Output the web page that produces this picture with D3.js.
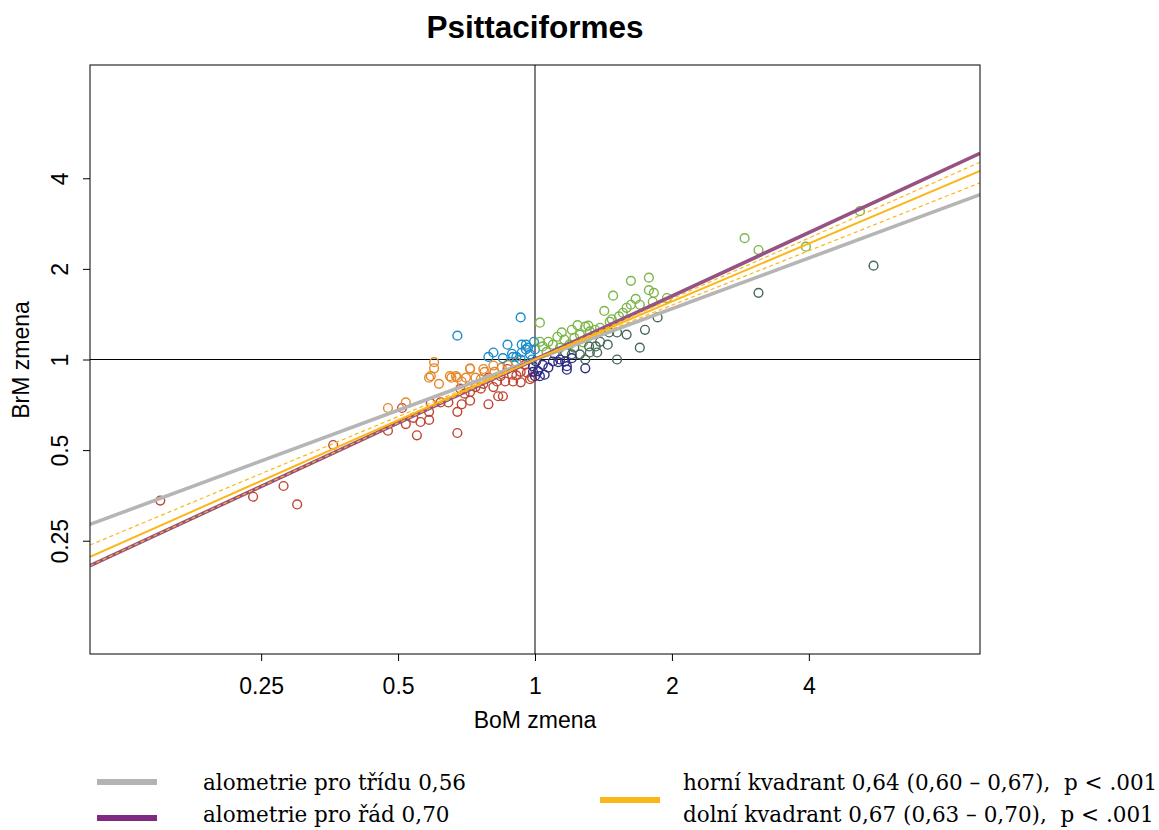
<!DOCTYPE html>
<html>
<head>
<meta charset="utf-8">
<script src="https://cdn.jsdelivr.net/npm/d3@7"></script>
<style>
  html, body { margin: 0; padding: 0; background: #fff; }
  svg { display: block; }
</style>
</head>
<body>
<svg id="chart" width="1159" height="830"></svg>
<script>
// Relative changes (ratio to reference) in body mass (x) and brain mass (y)
const tickValues = [0.25, 0.5, 1, 2, 4];
const tickLabels = ["0.25", "0.5", "1", "2", "4"];

const groupRed = [
  [0.15, 0.34], [0.24, 0.35], [0.28, 0.38], [0.30, 0.33], [0.36, 0.52],
  [0.475, 0.58], [0.51, 0.69], [0.52, 0.61], [0.54, 0.64], [0.55, 0.56],
  [0.56, 0.62], [0.585, 0.63], [0.585, 0.67], [0.59, 0.715], [0.645, 0.72],
  [0.675, 0.57], [0.675, 0.67], [0.69, 0.71], [0.72, 0.73], [0.72, 0.78],
  [0.685, 0.80], [0.76, 0.80], [0.77, 0.83], [0.79, 0.71], [0.81, 0.81],
  [0.83, 0.755], [0.85, 0.755], [0.825, 0.845], [0.86, 0.845], [0.895, 0.845],
  [0.93, 0.84], [0.975, 0.86], [0.89, 0.89], [0.91, 0.885], [0.93, 0.91],
  [0.96, 0.905], [0.87, 0.93], [0.84, 0.88], [0.79, 0.87], [0.74, 0.81],
  [0.70, 0.77], [0.985, 0.87], [0.95, 0.96], [0.62, 0.72]
];
const groupOrange = [
  [0.475, 0.69], [0.52, 0.72], [0.60, 0.98], [0.60, 0.935], [0.585, 0.87],
  [0.615, 0.83], [0.655, 0.87], [0.675, 0.87], [0.69, 0.845], [0.705, 0.87],
  [0.72, 0.935], [0.74, 0.87], [0.775, 0.91], [0.81, 0.955], [0.815, 0.91],
  [0.845, 0.94], [0.87, 0.96], [0.91, 0.98], [0.76, 0.86], [0.77, 0.93],
  [0.72, 0.93], [0.67, 0.88], [0.65, 0.88], [0.59, 0.88]
];
const groupBlue = [
  [0.675, 1.20], [0.93, 1.38], [0.87, 1.12], [0.79, 1.02], [0.81, 1.055],
  [0.85, 1.01], [0.89, 1.045], [0.91, 1.02], [0.935, 1.055], [0.955, 1.12],
  [0.955, 1.08], [0.965, 1.095], [0.975, 1.04], [0.995, 1.145], [1.0, 1.08],
  [0.895, 1.02], [0.93, 1.0], [0.985, 1.0], [0.935, 1.12]
];
const groupGreen = [
  [1.025, 1.325], [1.78, 1.87], [1.625, 1.825], [1.78, 1.70], [1.825, 1.665],
  [1.485, 1.63], [1.665, 1.59], [1.42, 1.45], [1.59, 1.485], [1.625, 1.52],
  [1.70, 1.52], [1.53, 1.39], [1.56, 1.43], [1.46, 1.335], [1.31, 1.295],
  [1.29, 1.285], [1.205, 1.255], [1.145, 1.23], [1.12, 1.19], [1.07, 1.145],
  [1.025, 1.145], [1.04, 1.105], [1.355, 1.255], [1.815, 1.555], [1.95, 1.60],
  [2.89, 2.53], [3.10, 2.31], [3.94, 2.37], [5.18, 3.11], [1.16, 1.165],
  [1.22, 1.18], [1.255, 1.21], [1.32, 1.24], [1.39, 1.275], [1.475, 1.36],
  [1.095, 1.12], [1.135, 1.095], [1.06, 1.06], [1.19, 1.12], [1.24, 1.30],
  [1.275, 1.14]
];
const groupDarkGreen = [
  [5.55, 2.05], [3.10, 1.665], [1.86, 1.38], [1.745, 1.255], [1.70, 1.095],
  [1.59, 1.21], [1.515, 1.23], [1.455, 1.23], [1.39, 1.145], [1.515, 1.0],
  [1.445, 1.12], [1.37, 1.055], [1.32, 1.055], [1.29, 1.0], [1.255, 1.04],
  [1.205, 1.04], [1.165, 1.055], [1.22, 1.095], [1.315, 1.105], [1.36, 1.105],
  [1.105, 1.04]
];
const groupNavy = [
  [0.99, 0.95], [1.015, 0.915], [1.025, 0.88], [1.07, 0.94], [1.095, 0.985],
  [1.125, 0.98], [1.165, 0.985], [1.175, 0.95], [1.175, 0.925], [1.205, 1.01],
  [1.29, 0.935], [1.04, 0.96], [1.0, 0.88], [1.005, 0.985], [1.05, 0.89],
  [0.99, 0.91], [1.135, 1.0]
];

// Allometric slopes (log-log), all lines pass through (1, 1)
const slopeClass = 0.56;
const slopeOrder = 0.70;
const slopeUpper = 0.64, slopeUpperCI = [0.60, 0.67];
const slopeLower = 0.67, slopeLowerCI = [0.63, 0.70];

const legendLabels = [
  "alometrie pro třídu 0,56",
  "alometrie pro řád 0,70",
  "horní kvadrant 0,64 (0,60 – 0,67),  p < .001",
  "dolní kvadrant 0,67 (0,63 – 0,70),  p < .001"
];

const groups = [
  { pts: groupRed, color: "#bf4431" },
  { pts: groupOrange, color: "#e3892c" },
  { pts: groupBlue, color: "#1c8bc9" },
  { pts: groupGreen, color: "#7cb548" },
  { pts: groupDarkGreen, color: "#456a57" },
  { pts: groupNavy, color: "#2d2c85" }
];

const svg = d3.select("#chart");
const plot = { left: 90, top: 65, right: 980, bottom: 654 };
const lim = [Math.pow(2, -3.25), Math.pow(2, 3.25)];

const x = d3.scaleLog().base(2).domain(lim).range([plot.left, plot.right]);
const y = d3.scaleLog().base(2).domain(lim).range([plot.bottom, plot.top]);

svg.append("defs").append("clipPath").attr("id", "clip")
  .append("rect")
  .attr("x", plot.left).attr("y", plot.top)
  .attr("width", plot.right - plot.left).attr("height", plot.bottom - plot.top);

const axisFont = "Liberation Sans, Arial, sans-serif";

// Title
svg.append("text")
  .attr("x", 535).attr("y", 38)
  .attr("text-anchor", "middle")
  .attr("font-family", axisFont)
  .attr("font-weight", "bold")
  .attr("font-size", 31.5)
  .text("Psittaciformes");

const g = svg.append("g").attr("clip-path", "url(#clip)");

// Reference cross through (1, 1)
g.append("line")
  .attr("x1", x(1)).attr("x2", x(1))
  .attr("y1", plot.top).attr("y2", plot.bottom)
  .attr("stroke", "#000").attr("stroke-width", 1);
g.append("line")
  .attr("x1", plot.left).attr("x2", plot.right)
  .attr("y1", y(1)).attr("y2", y(1))
  .attr("stroke", "#000").attr("stroke-width", 1);

// Points
groups.forEach(grp => {
  g.selectAll(null).data(grp.pts).enter().append("circle")
    .attr("cx", d => x(d[0]))
    .attr("cy", d => y(d[1]))
    .attr("r", 4.4)
    .attr("fill", "none")
    .attr("stroke", grp.color)
    .attr("stroke-width", 1.4);
});

// Power-law line y = x^b between two x values
function powerLine(b, x0, x1) {
  return [[x0, Math.pow(x0, b)], [x1, Math.pow(x1, b)]];
}
const line = d3.line().x(d => x(d[0])).y(d => y(d[1]));

g.append("path").attr("d", line(powerLine(slopeClass, lim[0], lim[1])))
  .attr("stroke", "#b5b5b5").attr("stroke-width", 3.6).attr("fill", "none");
g.append("path").attr("d", line(powerLine(slopeOrder, lim[0], lim[1])))
  .attr("stroke", "#955282").attr("stroke-width", 3.6).attr("fill", "none");

const yellow = "#fbb719";
// Upper quadrant (x > 1)
g.append("path").attr("d", line(powerLine(slopeUpper, 1, lim[1])))
  .attr("stroke", yellow).attr("stroke-width", 2).attr("fill", "none");
slopeUpperCI.forEach(b => {
  g.append("path").attr("d", line(powerLine(b, 1, lim[1])))
    .attr("stroke", yellow).attr("stroke-width", 1.2)
    .attr("stroke-dasharray", "4,3").attr("fill", "none");
});
// Lower quadrant (x < 1)
g.append("path").attr("d", line(powerLine(slopeLower, lim[0], 1)))
  .attr("stroke", yellow).attr("stroke-width", 2).attr("fill", "none");
slopeLowerCI.forEach(b => {
  g.append("path").attr("d", line(powerLine(b, lim[0], 1)))
    .attr("stroke", yellow).attr("stroke-width", 1.2)
    .attr("stroke-dasharray", "4,3").attr("fill", "none");
});

// Frame
svg.append("rect")
  .attr("x", plot.left).attr("y", plot.top)
  .attr("width", plot.right - plot.left).attr("height", plot.bottom - plot.top)
  .attr("fill", "none").attr("stroke", "#000").attr("stroke-width", 1);

// Axes
const xAxis = svg.append("g")
  .attr("transform", `translate(0,${plot.bottom})`)
  .call(d3.axisBottom(x).tickValues(tickValues)
    .tickFormat((d, i) => tickLabels[i]).tickSize(7));
xAxis.select(".domain").remove();
xAxis.selectAll("line").attr("stroke", "#000");
xAxis.selectAll("text")
  .attr("font-family", axisFont).attr("font-size", 23).attr("fill", "#000")
  .attr("y", 40).attr("dy", 0);

const yAxis = svg.append("g")
  .attr("transform", `translate(${plot.left},0)`)
  .call(d3.axisLeft(y).tickValues(tickValues)
    .tickFormat((d, i) => tickLabels[i]).tickSize(7));
yAxis.select(".domain").remove();
yAxis.selectAll("line").attr("stroke", "#000");
yAxis.selectAll("text")
  .attr("font-family", axisFont).attr("font-size", 23).attr("fill", "#000")
  .attr("x", 0).attr("y", 0).attr("dy", 0)
  .attr("text-anchor", "middle")
  .attr("transform", "translate(-22,0) rotate(-90)");

svg.append("text")
  .attr("x", 535).attr("y", 728)
  .attr("text-anchor", "middle")
  .attr("font-family", axisFont).attr("font-size", 23)
  .text("BoM zmena");
svg.append("text")
  .attr("transform", "translate(29,360) rotate(-90)")
  .attr("text-anchor", "middle")
  .attr("font-family", axisFont).attr("font-size", 23)
  .text("BrM zmena");

// Legend
const legFont = "DejaVu Serif, Liberation Serif, serif";
const leg = svg.append("g");
const swatches = [
  { x: 97, y: 782, color: "#b3b3b3" },
  { x: 97, y: 818, color: "#7e2a82" },
  { x: 600, y: 800, color: "#fbb719" }
];
swatches.forEach(s => {
  leg.append("line")
    .attr("x1", s.x).attr("x2", s.x + 60)
    .attr("y1", s.y).attr("y2", s.y)
    .attr("stroke", s.color).attr("stroke-width", 6);
});
const textPos = [[203, 790], [203, 822], [683, 790], [683, 822]];
legendLabels.forEach((t, i) => {
  leg.append("text")
    .attr("x", textPos[i][0]).attr("y", textPos[i][1])
    .attr("font-family", legFont).attr("font-size", 21.5)
    .attr("fill", "#000")
    .style("white-space", "pre")
    .text(t);
});
</script>
</body>
</html>
